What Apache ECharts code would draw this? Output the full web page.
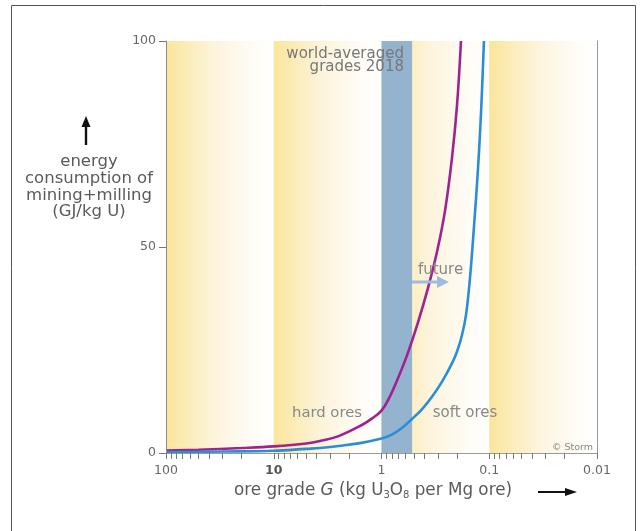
<!DOCTYPE html>
<html><head><meta charset="utf-8">
<script src="https://cdn.jsdelivr.net/npm/echarts@6/dist/echarts.min.js"></script>
<style>html,body{margin:0;padding:0;background:#fff}#c{width:641px;height:531px}</style>
</head><body><div id="c"></div>
<script>
// ---- data ----
const purpleGrade  = [100, 50, 20, 10, 5, 3.72, 2.5, 1.52, 1.22, 1.0, 0.85, 0.72, 0.58, 0.46, 0.37, 0.305, 0.257, 0.222, 0.199, 0.183];
const purpleEnergy = [0.6, 0.8, 1.2, 1.6, 2.3, 2.9, 4.1, 6.8, 8.4, 10.3, 13.3, 17.5, 23.7, 31.6, 40.1, 48.9, 58.9, 71.5, 84.5, 100];
const blueGrade    = [100, 30, 10, 5, 3.72, 2.5, 1.58, 1.0, 0.81, 0.67, 0.526, 0.42, 0.34, 0.275, 0.222, 0.199, 0.179, 0.164, 0.151, 0.139, 0.127, 0.119, 0.112];
const blueEnergy   = [0.2, 0.35, 0.55, 1.0, 1.2, 1.7, 2.4, 3.5, 4.4, 5.75, 8.15, 10.65, 13.65, 17.25, 21.75, 24.65, 28.65, 33.65, 42.45, 54.45, 69.25, 83, 100];
const decadeBands  = [[100, 10], [10, 1], [1, 0.1], [0.1, 0.01]];
const worldBand    = [1, 0.52];
const majorTicks   = [100, 10, 1, 0.1, 0.01];
const minorFactors = [2, 3, 4, 5, 6, 7, 8, 9];
const yTicks       = [0, 50, 100];

const FONT = '"DejaVu Sans", "Open Sans", sans-serif';
const tickValues = [];
majorTicks.forEach(function (m) {
  tickValues.push(m);
  if (m > 0.01) minorFactors.forEach(function (f) { tickValues.push(+(f * m / 10).toPrecision(3)); });
});
function pairs(xs, ys) { return xs.map(function (x, i) { return [x, ys[i]]; }); }

const yellowGrad = {
  type: 'linear', x: 0, y: 0, x2: 1, y2: 0,
  colorStops: [
    { offset: 0, color: '#fbe59a' },
    { offset: 0.12, color: '#fbeaad' },
    { offset: 0.45, color: '#fdf4dc' },
    { offset: 0.8, color: '#fffcf6' },
    { offset: 1, color: '#ffffff' }
  ]
};

const chart = echarts.init(document.getElementById('c'), null, { renderer: 'canvas' });
const option = {
  animation: false,
  backgroundColor: '#ffffff',
  grid: { left: 166, right: 44, top: 41, bottom: 78, containLabel: false },
  xAxis: [{
    type: 'log', logBase: 10, min: 0.01, max: 100, inverse: true, position: 'bottom', z: 10,
    axisLine: { show: true, lineStyle: { color: '#8a8a8a', width: 1 } },
    axisTick: { show: true, inside: false, length: 6, customValues: tickValues, lineStyle: { color: '#777' } },
    axisLabel: {
      customValues: majorTicks, margin: 11, color: '#666', fontFamily: FONT, fontSize: 12.5,
      formatter: function (v) { const s = String(+Number(v).toPrecision(3)); return s === '10' ? '{b|10}' : s; },
      rich: { b: { fontWeight: 'bold', color: '#555', fontFamily: FONT, fontSize: 12.5 } }
    },
    splitLine: { show: false }, minorTick: { show: false }
  }, {
    type: 'log', logBase: 10, min: 0.01, max: 100, inverse: true, position: 'top', z: 10,
    axisLine: { show: true, lineStyle: { color: '#9a9a9a', width: 1 } },
    axisTick: { show: false }, axisLabel: { show: false }, splitLine: { show: false }
  }],
  yAxis: [{
    type: 'value', min: 0, max: 100, interval: 50, position: 'left', z: 10,
    axisLine: { show: true, lineStyle: { color: '#8a8a8a', width: 1 } },
    axisTick: { show: true, inside: false, length: 7, customValues: yTicks, lineStyle: { color: '#777' } },
    axisLabel: { margin: 10, color: '#666', fontFamily: FONT, fontSize: 12.5 },
    splitLine: { show: false }
  }, {
    type: 'value', min: 0, max: 100, position: 'right', z: 10,
    axisLine: { show: true, lineStyle: { color: '#9a9a9a', width: 1 } },
    axisTick: { show: false }, axisLabel: { show: false }, splitLine: { show: false }
  }],
  series: [{
    type: 'line', name: 'bands', data: [], z: 1, silent: true,
    markArea: {
      silent: true,
      label: { show: false },
      data: decadeBands.map(function (b) {
        return [{ xAxis: b[0], itemStyle: { color: yellowGrad } }, { xAxis: b[1] }];
      }).concat([[{ xAxis: worldBand[0], itemStyle: { color: '#94b3cf', opacity: 1 } }, { xAxis: worldBand[1] }]])
    }
  }, {
    type: 'line', name: 'hard ores', data: pairs(purpleGrade, purpleEnergy), z: 3,
    showSymbol: false, smooth: 0.4, clip: true,
    lineStyle: { color: '#a0228f', width: 2.6 }
  }, {
    type: 'line', name: 'soft ores', data: pairs(blueGrade, blueEnergy), z: 3,
    showSymbol: false, smooth: 0.4, clip: true,
    lineStyle: { color: '#2b8dd6', width: 2.6 }
  }],
  graphic: [
    { type: 'rect', shape: { x: 11.5, y: 5.5, width: 624, height: 560 }, style: { fill: 'none', stroke: '#555', lineWidth: 1 }, silent: true, z: 20 },
    // y title + arrow
    { type: 'line', shape: { x1: 86, y1: 145, x2: 86, y2: 125 }, style: { stroke: '#111', lineWidth: 2.4 }, z: 20 },
    { type: 'polygon', shape: { points: [[81.5, 127], [90.5, 127], [86, 116]] }, style: { fill: '#111' }, z: 20 },
    { type: 'text', x: 89, y: 153.6, z: 20, style: { text: 'energy\nconsumption of\nmining+milling\n(GJ/kg U)', align: 'center', verticalAlign: 'top', lineHeight: 16.7, font: '16.5px ' + FONT, fill: '#5a5a5a' } },
    // x title + arrow
    { type: 'text', x: 373, y: 491, z: 20, style: {
        text: 'ore grade {i|G} (kg U{s|3}O{s|8} per Mg ore)', align: 'center', verticalAlign: 'middle', font: '16.8px ' + FONT, fill: '#5a5a5a',
        rich: { i: { font: 'italic 16.8px ' + FONT, fill: '#5a5a5a' }, s: { font: '10px ' + FONT, fill: '#5a5a5a', verticalAlign: 'bottom', padding: [9, 0, 0, 0] } } } },
    { type: 'line', shape: { x1: 538, y1: 492, x2: 568, y2: 492 }, style: { stroke: '#111', lineWidth: 2 }, z: 20 },
    { type: 'polygon', shape: { points: [[565, 488], [565, 496], [577, 492]] }, style: { fill: '#111' }, z: 20 },
    // annotations
    { type: 'text', x: 404, y: 47.3, z: 20, style: { text: 'world-averaged\ngrades 2018', align: 'right', verticalAlign: 'top', lineHeight: 13.4, font: '15px ' + FONT, fill: '#777' } },
    { type: 'text', x: 327, y: 413, z: 20, style: { text: 'hard ores', align: 'center', verticalAlign: 'middle', font: '14.8px ' + FONT, fill: '#888' } },
    { type: 'text', x: 465, y: 413, z: 20, style: { text: 'soft ores', align: 'center', verticalAlign: 'middle', font: '15px ' + FONT, fill: '#888' } },
    { type: 'text', x: 440.5, y: 270, z: 20, style: { text: 'future', align: 'center', verticalAlign: 'middle', font: '15px ' + FONT, fill: '#888' } },
    { type: 'line', shape: { x1: 412, y1: 282, x2: 440, y2: 282 }, style: { stroke: '#9dbde0', lineWidth: 3 }, z: 4 },
    { type: 'polygon', shape: { points: [[437, 276], [437, 288], [449, 282]] }, style: { fill: '#9dbde0' }, z: 4 },
    { type: 'text', x: 593, y: 448, z: 20, style: { text: '© Storm', align: 'right', verticalAlign: 'middle', font: '9.5px ' + FONT, fill: '#888' } }
  ]
};
chart.setOption(option);
</script>
</body></html>
